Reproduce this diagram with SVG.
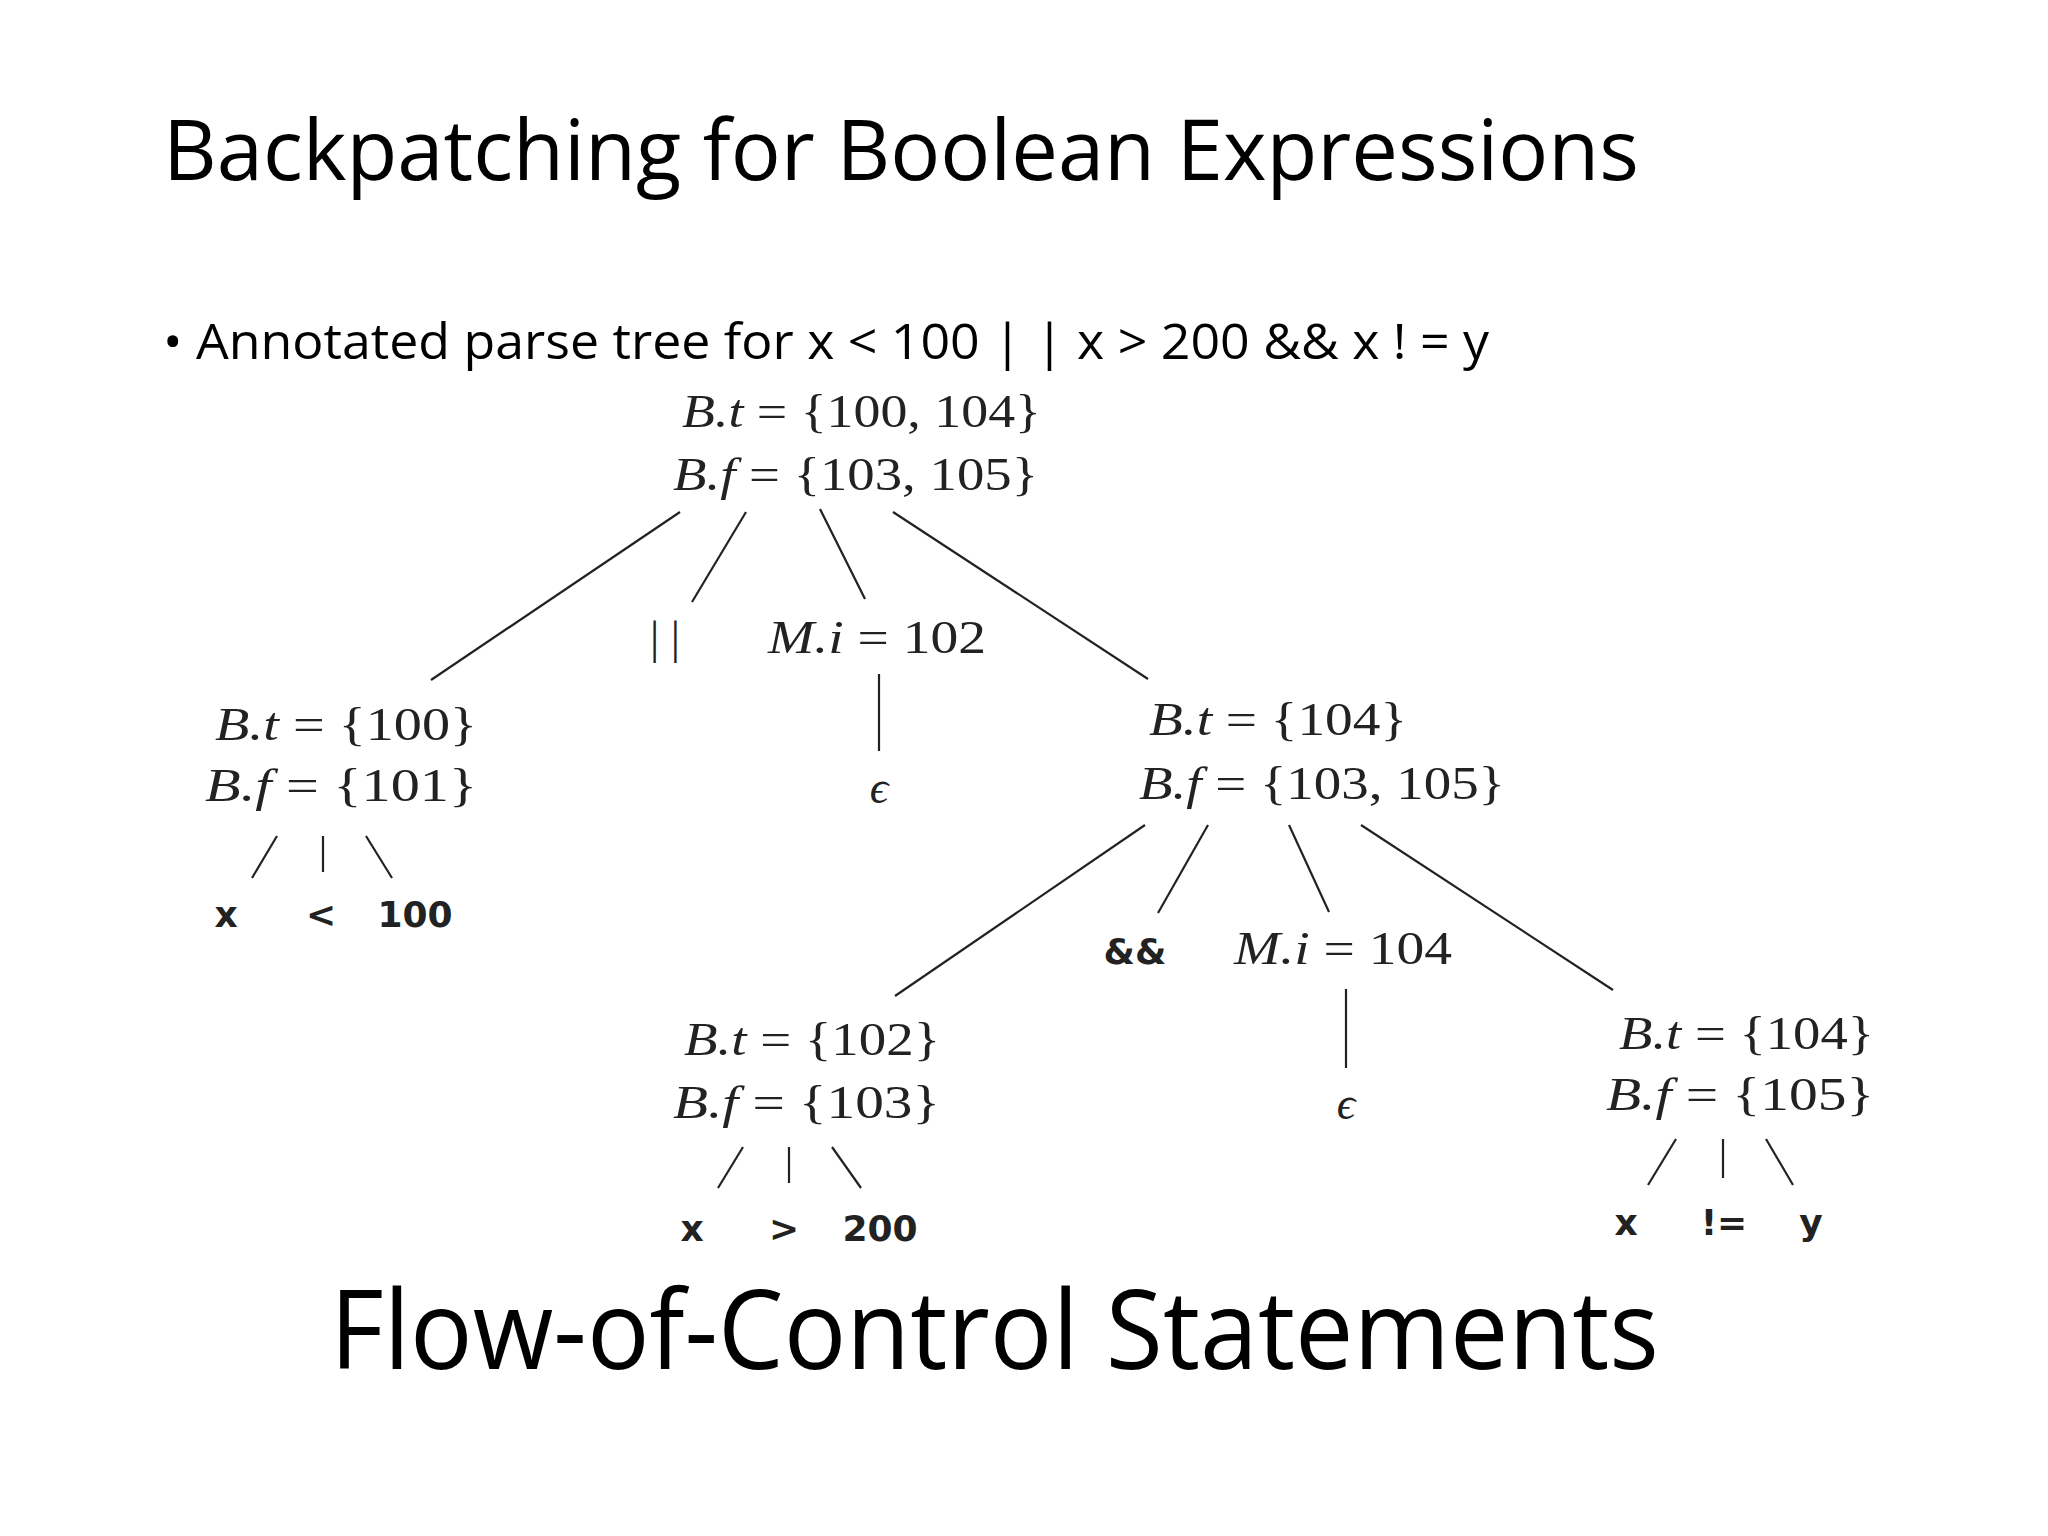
<svg xmlns="http://www.w3.org/2000/svg" width="2048" height="1536" viewBox="0 0 2048 1536">
<style>
.h{font-family:"Open Sans","Liberation Sans",sans-serif;fill:#000}
.m{font-family:"Liberation Serif","DejaVu Serif",serif;font-size:46px;fill:#222}
.i{font-style:italic}
.l{font-family:"DejaVu Sans","Liberation Sans",sans-serif;font-size:36px;font-weight:bold;fill:#222;text-anchor:middle}
.c line{stroke:#222;stroke-width:2.2}
</style>
<rect width="2048" height="1536" fill="#fff"/>
<text class="h" x="163" y="180" font-size="84" textLength="1476" lengthAdjust="spacingAndGlyphs">Backpatching for Boolean Expressions</text>
<text class="h" x="163" y="359" font-size="50" textLength="1326" lengthAdjust="spacingAndGlyphs">• Annotated parse tree for x &lt; 100 | | x &gt; 200 &amp;&amp; x ! = y</text>
<text class="h" x="330" y="1369" font-size="110" textLength="1329" lengthAdjust="spacingAndGlyphs">Flow-of-Control Statements</text>
<g class="c" id="connectors">
<line x1="680" y1="512" x2="431" y2="680"/><line x1="746" y1="512" x2="692" y2="602"/>
<line x1="820" y1="509" x2="865" y2="599"/><line x1="893" y1="512" x2="1148" y2="679"/>
<line x1="879" y1="674" x2="879" y2="751"/>
<line x1="277" y1="836" x2="252" y2="878"/><line x1="323" y1="836" x2="323" y2="872"/><line x1="366" y1="836" x2="392" y2="878"/>
<line x1="1145" y1="825" x2="895" y2="996"/><line x1="1208" y1="825" x2="1158" y2="913"/>
<line x1="1289" y1="825" x2="1329" y2="912"/><line x1="1361" y1="825" x2="1613" y2="990"/>
<line x1="1346" y1="989" x2="1346" y2="1068"/>
<line x1="743" y1="1147" x2="718" y2="1188"/><line x1="789" y1="1147" x2="789" y2="1183"/><line x1="832" y1="1147" x2="861" y2="1188"/>
<line x1="1676" y1="1139" x2="1648" y2="1185"/><line x1="1723" y1="1139" x2="1723" y2="1178"/><line x1="1766" y1="1139" x2="1793" y2="1185"/>
</g>
<g id="root">
<text class="m" x="682" y="427" textLength="359" lengthAdjust="spacingAndGlyphs"><tspan class="i">B.t</tspan> = {100, 104}</text>
<text class="m" x="673" y="490" textLength="365" lengthAdjust="spacingAndGlyphs"><tspan class="i">B.f</tspan> = {103, 105}</text>
</g>
<g id="or"><text class="m" x="650" y="653">| |</text></g>
<g id="m1"><text class="m" x="768" y="653" textLength="218" lengthAdjust="spacingAndGlyphs"><tspan class="i">M.i</tspan> = 102</text></g>
<g id="eps1"><text class="m i" x="879" y="803" text-anchor="middle" font-size="36">ϵ</text></g>
<g id="left">
<text class="m" x="215" y="740" textLength="262" lengthAdjust="spacingAndGlyphs"><tspan class="i">B.t</tspan> = {100}</text>
<text class="m" x="205" y="801" textLength="272" lengthAdjust="spacingAndGlyphs"><tspan class="i">B.f</tspan> = {101}</text>
</g>
<g id="leaves1"><text class="l" x="226" y="927">x</text><text class="l" x="321" y="927">&lt;</text><text class="l" x="415" y="927">100</text></g>
<g id="right">
<text class="m" x="1149" y="735" textLength="258" lengthAdjust="spacingAndGlyphs"><tspan class="i">B.t</tspan> = {104}</text>
<text class="m" x="1139" y="799" textLength="366" lengthAdjust="spacingAndGlyphs"><tspan class="i">B.f</tspan> = {103, 105}</text>
</g>
<g id="and"><text class="l" x="1135" y="964">&amp;&amp;</text></g>
<g id="m2"><text class="m" x="1234" y="964" textLength="218" lengthAdjust="spacingAndGlyphs"><tspan class="i">M.i</tspan> = 104</text></g>
<g id="eps2"><text class="m i" x="1346" y="1119" text-anchor="middle" font-size="36">ϵ</text></g>
<g id="mid">
<text class="m" x="684" y="1055" textLength="256" lengthAdjust="spacingAndGlyphs"><tspan class="i">B.t</tspan> = {102}</text>
<text class="m" x="673" y="1118" textLength="267" lengthAdjust="spacingAndGlyphs"><tspan class="i">B.f</tspan> = {103}</text>
</g>
<g id="leaves2"><text class="l" x="692" y="1241">x</text><text class="l" x="784" y="1241">&gt;</text><text class="l" x="880" y="1241">200</text></g>
<g id="rr">
<text class="m" x="1619" y="1049" textLength="255" lengthAdjust="spacingAndGlyphs"><tspan class="i">B.t</tspan> = {104}</text>
<text class="m" x="1606" y="1110" textLength="268" lengthAdjust="spacingAndGlyphs"><tspan class="i">B.f</tspan> = {105}</text>
</g>
<g id="leaves3"><text class="l" x="1626" y="1235">x</text><text class="l" x="1724" y="1235">!=</text><text class="l" x="1811" y="1235">y</text></g>
</svg>
